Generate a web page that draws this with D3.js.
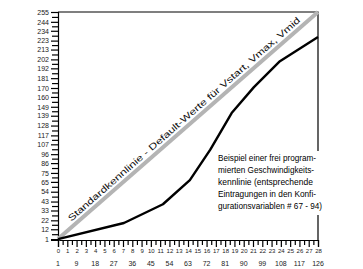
<!DOCTYPE html>
<html lang="de">
<head>
  <meta charset="UTF-8">
  <title>Geschwindigkeitskennlinie</title>
  <script src="https://d3js.org/d3.v7.min.js"></script>
  <style>
    body { margin: 0; background: #fff; }
    svg { font-family: "Liberation Sans", Arial, sans-serif; }
    .axis path, .axis line { stroke: #000; }
    .axis text { fill: #222; }
  </style>
</head>
<body>
  <svg width="363" height="269"></svg>
  <script>
    // speed steps (28-step mode) and the matching 128-step values
    const stepLabels = d3.range(0, 29);
    const step128 = [1, 9, 18, 27, 36, 45, 54, 63, 72, 81, 90, 99, 108, 117, 126];
    const yTicks = [1, 12, 22, 33, 43, 54, 65, 75, 86, 96, 107, 117, 128, 139, 149,
                    160, 170, 181, 192, 202, 213, 223, 234, 244, 255];

    // default curve (straight) and a freely programmed curve
    const defaultSteps = [0, 28];
    const defaultValues = [1, 255];
    const customSteps = [0, 7.1, 11.3, 14.2, 16.4, 18.7, 21.1, 23.9, 28];
    const customValues = [1, 19, 40, 67, 101, 142, 171, 200, 227];

    const noteLines = [
      "Beispiel einer frei program-",
      "mierten Geschwindigkeits-",
      "kennlinie (entsprechende",
      "Eintragungen in den Konfi-",
      "gurationsvariablen # 67 - 94)"
    ];
    const noteWidths = [98, 96, 95, 98, 104];
    const lineLabel = "Standardkennlinie - Default-Werte für Vstart, Vmax, Vmid";

    const svg = d3.select("svg"),
          margin = {top: 12, right: 45, bottom: 29, left: 58},
          width = +svg.attr("width") - margin.left - margin.right,
          height = +svg.attr("height") - margin.top - margin.bottom,
          g = svg.append("g").attr("transform", `translate(${margin.left},${margin.top})`);

    const x = d3.scaleLinear().domain([0, 28]).range([0, width]);
    const y = d3.scaleLinear().domain([0, 255]).range([height, 0]);

    // frame (top and right)
    g.append("path")
      .attr("d", `M0,0H${width}V${height}`)
      .attr("fill", "none")
      .attr("stroke", "#000")
      .attr("stroke-width", 1.2);

    // y axis: labelled ticks + minor ticks in between
    const yMinor = d3.pairs(yTicks).map(p => (p[0] + p[1]) / 2);
    g.append("g").attr("class", "axis")
      .call(d3.axisLeft(y).tickValues(yMinor).tickSize(6).tickFormat(""))
      .call(a => a.select(".domain").remove())
      .selectAll("line").attr("stroke-width", 1.2);
    g.append("g").attr("class", "axis")
      .call(d3.axisLeft(y).tickValues(yTicks).tickSize(7).tickPadding(2).tickFormat(d3.format("d")))
      .call(a => a.selectAll("text").attr("font-size", "7px"))
      .call(a => a.select(".domain").attr("stroke-width", 1.2))
      .selectAll("line").attr("stroke-width", 1.2);

    // x axis: speed steps with half-step ticks
    const xMinor = d3.range(0.5, 28, 1);
    g.append("g").attr("class", "axis")
      .attr("transform", `translate(0,${height})`)
      .call(d3.axisBottom(x).tickValues(xMinor).tickSize(5).tickFormat(""))
      .call(a => a.select(".domain").remove())
      .selectAll("line").attr("stroke-width", 1.2);
    g.append("g").attr("class", "axis")
      .attr("transform", `translate(0,${height})`)
      .call(d3.axisBottom(x).tickValues(stepLabels).tickSize(7).tickPadding(2).tickFormat(d3.format("d")))
      .call(a => a.selectAll("text").attr("font-size", "6px"))
      .call(a => a.select(".domain").attr("stroke-width", 1.2))
      .selectAll("line").attr("stroke-width", 1.2);

    // second label row: 128-step equivalents at every other step
    g.append("g")
      .selectAll("text")
      .data(step128)
      .join("text")
      .attr("x", (d, i) => x(i * 2))
      .attr("y", height + 26)
      .attr("text-anchor", "middle")
      .attr("font-size", "7px")
      .attr("fill", "#222")
      .text(d => d);

    // default straight line
    const line = d3.line().x(d => x(d[0])).y(d => y(d[1]));
    g.append("path")
      .datum(d3.zip(defaultSteps, defaultValues))
      .attr("d", line)
      .attr("fill", "none")
      .attr("stroke", "#b4b4b4")
      .attr("stroke-width", 4);

    // label along the default line
    const angle = Math.atan2(y(defaultValues[0]) - y(defaultValues[1]), x(defaultSteps[1]) - x(defaultSteps[0])) * 180 / Math.PI;
    g.append("text")
      .attr("transform", `translate(${x(1.7)},${y(17)}) rotate(${-angle}) translate(0,-4)`)
      .attr("font-size", "9px")
      .attr("fill", "#111")
      .attr("textLength", 305)
      .attr("lengthAdjust", "spacingAndGlyphs")
      .text(lineLabel);

    // programmed curve
    g.append("path")
      .datum(d3.zip(customSteps, customValues))
      .attr("d", line)
      .attr("fill", "none")
      .attr("stroke", "#000")
      .attr("stroke-width", 2.4)
      .attr("stroke-linejoin", "round");

    // annotation box (covers the frame)
    const note = svg.append("g").attr("transform", "translate(216,151)");
    note.append("rect")
      .attr("width", 110).attr("height", 64)
      .attr("fill", "#fff");
    note.selectAll("text")
      .data(noteLines)
      .join("text")
      .attr("x", 2)
      .attr("y", (d, i) => 10 + i * 12)
      .attr("font-size", "9.5px")
      .attr("textLength", (d, i) => noteWidths[i])
      .attr("lengthAdjust", "spacingAndGlyphs")
      .text(d => d);
  </script>
</body>
</html>
